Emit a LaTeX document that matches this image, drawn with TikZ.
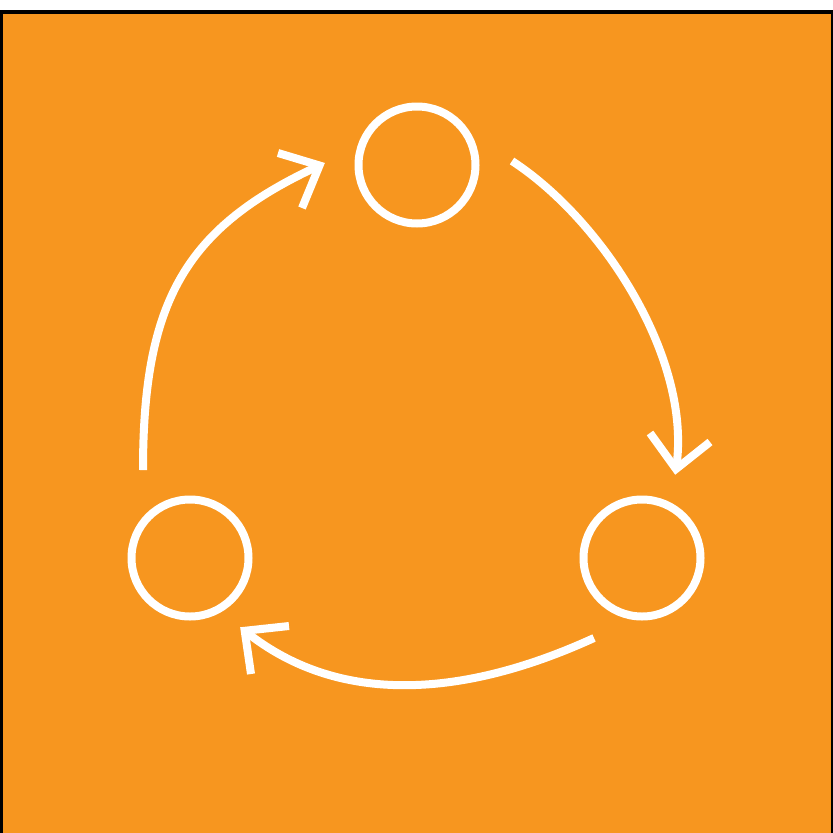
\documentclass[tikz,border=0pt]{standalone}
\definecolor{bgorange}{RGB}{247,150,31}
\tikzset{
  ring/.style={circle, draw=white, line width=8pt, minimum size=117pt, inner sep=0pt},
  flow/.style={draw=white, line width=8pt, line cap=butt},
  chev/.style={draw=white, line width=8pt, line cap=butt, line join=miter, miter limit=10}
}
\begin{document}
\begin{tikzpicture}[x=1pt,y=-1pt]
\useasboundingbox (0,0) rectangle (833,833);
\fill[white] (0,0) rectangle (833,833);
\fill[black] (0,10) rectangle (833,833);
\fill[bgorange] (2.5,13.5) rectangle (831,833);
% circles
\node[ring] (top) at (417,165) {};
\node[ring] (left) at (190,558) {};
\node[ring] (right) at (642,558) {};
% arrow 1 (left -> top)
\coordinate (s1) at (143,470);
\coordinate (e1) at (319.5,165.5);
\coordinate (a1) at (278,153);
\coordinate (b1) at (302,208);
\draw[flow] (s1) .. controls (143,300) and (186,227) .. (e1);
\draw[chev] (a1) -- (e1) -- (b1);
% arrow 2 (top -> right)
\coordinate (s2) at (512,161);
\coordinate (e2) at (676,469);
\coordinate (a2) at (650,433);
\coordinate (b2) at (710,442);
\draw[flow] (s2) .. controls (604,221) and (693,361) .. (e2);
\draw[chev] (a2) -- (e2) -- (b2);
% arrow 3 (right -> left)
\coordinate (s3) at (594,638);
\coordinate (e3) at (244.7,630.8);
\coordinate (a3) at (289,626);
\coordinate (b3) at (251,674);
\draw[flow] (s3) .. controls (476,692) and (345,712) .. (e3);
\draw[chev] (a3) -- (e3) -- (b3);
\end{tikzpicture}
\end{document}
